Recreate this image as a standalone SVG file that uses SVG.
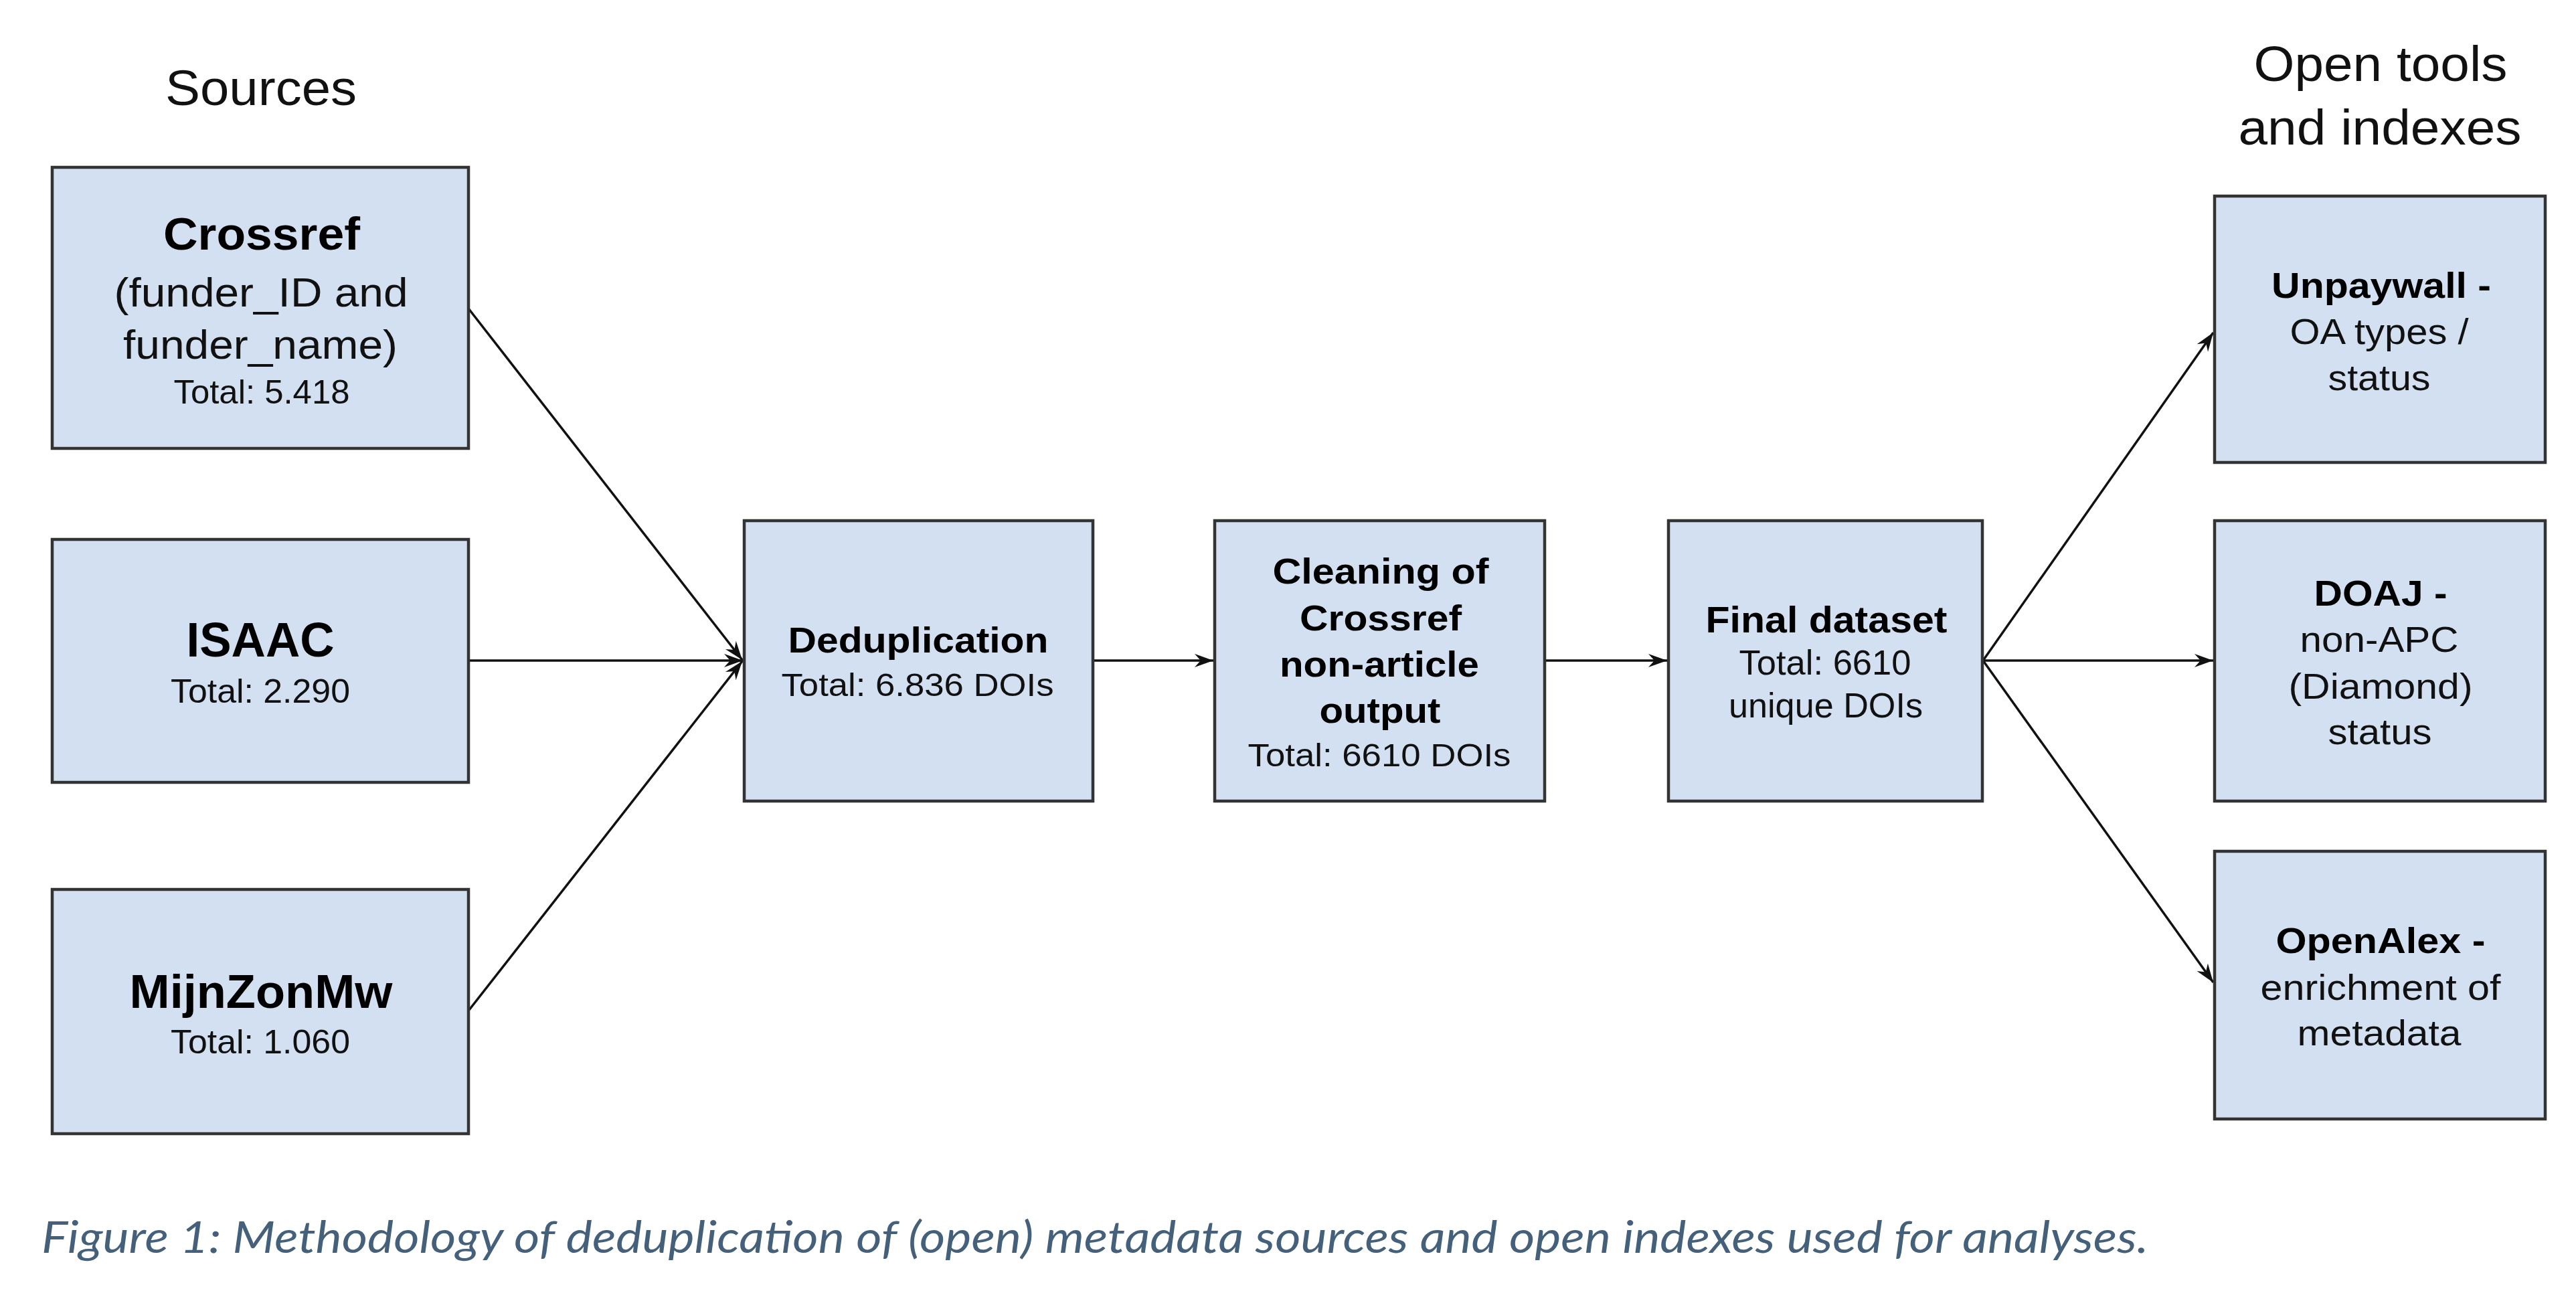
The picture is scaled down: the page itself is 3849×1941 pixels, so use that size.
<svg xmlns="http://www.w3.org/2000/svg" width="3849" height="1941" viewBox="0 0 3849 1941">
<style>
.box{fill:#d3e0f1;stroke:#333;stroke-width:4.5}
.t{font-family:"Liberation Sans",Arial,sans-serif;fill:#111;text-anchor:middle}
.b{font-weight:bold;fill:#000}
.head{font-family:"Liberation Sans",Arial,sans-serif;fill:#111;text-anchor:middle;font-size:74px}
.conn{stroke:#111;stroke-width:3.5;fill:none}
.cap{font-family:Lato,"Open Sans",sans-serif;font-style:italic;fill:#44607a;font-size:66px}
</style>
<defs>
<marker id="arr" markerUnits="userSpaceOnUse" viewBox="-30 -12 32 24" markerWidth="32" markerHeight="24" refX="0" refY="0" orient="auto">
<path d="M0,0 L-28,-10 L-19,0 L-28,10 Z" fill="#111"/>
</marker>
</defs>
<rect width="3849" height="1941" fill="#fff"/>

<g id="headings">
<text class="head" x="390" y="157" textLength="286" lengthAdjust="spacingAndGlyphs">Sources</text>
<text class="head" x="3557" y="121" textLength="379" lengthAdjust="spacingAndGlyphs">Open tools</text>
<text class="head" x="3556" y="216" textLength="423" lengthAdjust="spacingAndGlyphs">and indexes</text>
</g>

<g id="connectors">
<path class="conn" d="M700,461 L1109,986" marker-end="url(#arr)"/>
<path class="conn" d="M700,987 L1110,987" marker-end="url(#arr)"/>
<path class="conn" d="M701,1509 L1109,988" marker-end="url(#arr)"/>
<path class="conn" d="M1633,987 L1813,987" marker-end="url(#arr)"/>
<path class="conn" d="M2308,987 L2491,987" marker-end="url(#arr)"/>
<path class="conn" d="M2963,987 L3307,497" marker-end="url(#arr)"/>
<path class="conn" d="M2963,987 L3307,987" marker-end="url(#arr)"/>
<path class="conn" d="M2963,987 L3307,1468" marker-end="url(#arr)"/>
</g>

<g id="crossref">
<rect class="box" x="78" y="250" width="622" height="420"/>
<text class="t b" x="391" y="373" font-size="68" textLength="294" lengthAdjust="spacingAndGlyphs">Crossref</text>
<text class="t" x="390" y="458" font-size="62" textLength="439" lengthAdjust="spacingAndGlyphs">(funder_ID and</text>
<text class="t" x="389" y="536" font-size="62" textLength="410" lengthAdjust="spacingAndGlyphs">funder_name)</text>
<text class="t" x="391" y="603" font-size="50" textLength="263" lengthAdjust="spacingAndGlyphs">Total: 5.418</text>
</g>

<g id="isaac">
<rect class="box" x="78" y="806" width="622" height="363"/>
<text class="t b" x="389" y="981" font-size="72" textLength="221" lengthAdjust="spacingAndGlyphs">ISAAC</text>
<text class="t" x="389" y="1050" font-size="50" textLength="268" lengthAdjust="spacingAndGlyphs">Total: 2.290</text>
</g>

<g id="mijnzonmw">
<rect class="box" x="78" y="1329" width="622" height="365"/>
<text class="t b" x="390" y="1506" font-size="71" textLength="393" lengthAdjust="spacingAndGlyphs">MijnZonMw</text>
<text class="t" x="389" y="1574" font-size="50" textLength="268" lengthAdjust="spacingAndGlyphs">Total: 1.060</text>
</g>

<g id="deduplication">
<rect class="box" x="1112" y="778" width="521" height="419"/>
<text class="t b" x="1372" y="975" font-size="54" textLength="389" lengthAdjust="spacingAndGlyphs">Deduplication</text>
<text class="t" x="1371" y="1040" font-size="48" textLength="407" lengthAdjust="spacingAndGlyphs">Total: 6.836 DOIs</text>
</g>

<g id="cleaning">
<rect class="box" x="1815" y="778" width="493" height="419"/>
<text class="t b" x="2063" y="872" font-size="54" textLength="323" lengthAdjust="spacingAndGlyphs">Cleaning of</text>
<text class="t b" x="2063" y="942" font-size="54" textLength="242" lengthAdjust="spacingAndGlyphs">Crossref</text>
<text class="t b" x="2061" y="1011" font-size="54" textLength="298" lengthAdjust="spacingAndGlyphs">non-article</text>
<text class="t b" x="2062" y="1080" font-size="54" textLength="181" lengthAdjust="spacingAndGlyphs">output</text>
<text class="t" x="2061" y="1145" font-size="48" textLength="393" lengthAdjust="spacingAndGlyphs">Total: 6610 DOIs</text>
</g>

<g id="final-dataset">
<rect class="box" x="2493" y="778" width="469" height="419"/>
<text class="t b" x="2729" y="945" font-size="55" textLength="361" lengthAdjust="spacingAndGlyphs">Final dataset</text>
<text class="t" x="2727" y="1008" font-size="52" textLength="257" lengthAdjust="spacingAndGlyphs">Total: 6610</text>
<text class="t" x="2728" y="1072" font-size="52" textLength="290" lengthAdjust="spacingAndGlyphs">unique DOIs</text>
</g>

<g id="unpaywall">
<rect class="box" x="3309" y="293" width="494" height="398"/>
<text class="t b" x="3558" y="445" font-size="54" textLength="328" lengthAdjust="spacingAndGlyphs">Unpaywall -</text>
<text class="t" x="3555" y="514" font-size="53" textLength="267" lengthAdjust="spacingAndGlyphs">OA types /</text>
<text class="t" x="3555" y="583" font-size="53" textLength="153" lengthAdjust="spacingAndGlyphs">status</text>
</g>

<g id="doaj">
<rect class="box" x="3309" y="778" width="494" height="419"/>
<text class="t b" x="3557" y="905" font-size="54" textLength="199" lengthAdjust="spacingAndGlyphs">DOAJ -</text>
<text class="t" x="3555" y="974" font-size="53" textLength="237" lengthAdjust="spacingAndGlyphs">non-APC</text>
<text class="t" x="3557" y="1044" font-size="53" textLength="275" lengthAdjust="spacingAndGlyphs">(Diamond)</text>
<text class="t" x="3556" y="1112" font-size="53" textLength="155" lengthAdjust="spacingAndGlyphs">status</text>
</g>

<g id="openalex">
<rect class="box" x="3309" y="1272" width="494" height="400"/>
<text class="t b" x="3557" y="1424" font-size="54" textLength="313" lengthAdjust="spacingAndGlyphs">OpenAlex -</text>
<text class="t" x="3557" y="1494" font-size="53" textLength="359" lengthAdjust="spacingAndGlyphs">enrichment of</text>
<text class="t" x="3555" y="1562" font-size="53" textLength="245" lengthAdjust="spacingAndGlyphs">metadata</text>
</g>

<g id="caption">
<text class="cap" x="62" y="1872" textLength="3148" lengthAdjust="spacingAndGlyphs">Figure 1: Methodology of deduplication of (open) metadata sources and open indexes used for analyses.</text>
</g>
</svg>
